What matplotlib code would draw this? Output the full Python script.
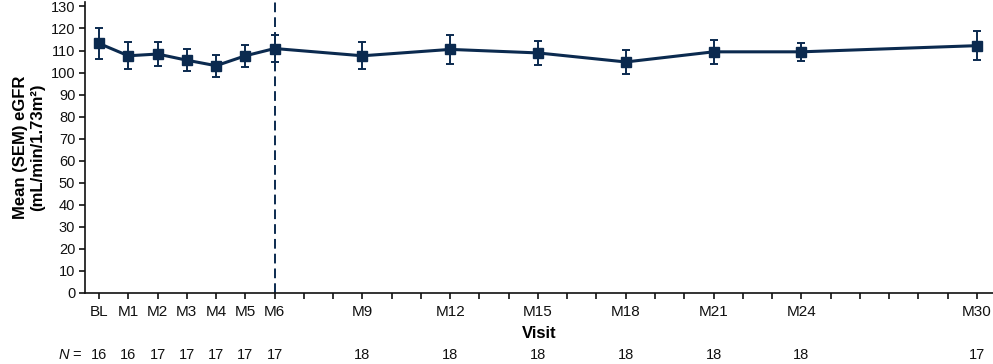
import matplotlib
matplotlib.use("Agg")
import matplotlib.pyplot as plt

plt.rcParams['font.family'] = ['Liberation Sans', 'DejaVu Sans']

# Visit data (month of visit, mean eGFR, SEM, N)
visits = ['BL', 'M1', 'M2', 'M3', 'M4', 'M5', 'M6', 'M9', 'M12', 'M15', 'M18', 'M21', 'M24', 'M30']
months = [0, 1, 2, 3, 4, 5, 6, 9, 12, 15, 18, 21, 24, 30]
mean_egfr = [113.2, 107.6, 108.4, 105.6, 103.1, 107.6, 110.9, 107.6, 110.5, 108.9, 104.8, 109.4, 109.4, 112.2]
sem = [6.9, 6.1, 5.5, 4.9, 5.0, 4.9, 6.2, 6.1, 6.7, 5.6, 5.3, 5.5, 4.2, 6.7]
n_patients = [16, 16, 17, 17, 17, 17, 17, 18, 18, 18, 18, 18, 18, 17]

navy = '#0b2a4f'
ink = '#111111'

fig = plt.figure(figsize=(9.93, 3.64), dpi=100)
ax = fig.add_axes([85 / 993, 71 / 364, 908 / 993, 291 / 364])

# Vertical dashed line at M6
ax.axvline(6, color=navy, linewidth=1.4, linestyle=(0, (5, 2.6)), zorder=1)

# Mean with SEM error bars
ax.errorbar(months, mean_egfr, yerr=sem, color=navy, linewidth=2.2,
            marker='s', markersize=6.5, elinewidth=1.4, capsize=3, capthick=1.4,
            zorder=3)

ax.set_xlim(-0.48, 30.55)
ax.set_ylim(0, 132)
ax.set_yticks(range(0, 131, 10))

# Tick at every month, labels only at visits
all_months = list(range(0, 31))
labels = [visits[months.index(m)] if m in months else '' for m in all_months]
ax.set_xticks(all_months)
ax.set_xticklabels(labels)

for side in ['top', 'right']:
    ax.spines[side].set_visible(False)
for side in ['left', 'bottom']:
    ax.spines[side].set_linewidth(1.2)
    ax.spines[side].set_color(ink)

ax.tick_params(axis='both', direction='out', length=4, width=1.2, color=ink,
               labelcolor=ink)
ax.tick_params(axis='x', pad=5, labelsize=11)
ax.tick_params(axis='y', pad=3, labelsize=10.5)

ax.set_ylabel('Mean (SEM) eGFR\n(mL/min/1.73m\u00b2)', fontsize=12, fontweight='bold',
              labelpad=4, linespacing=1.15)
ax.set_xlabel('Visit', fontsize=12, fontweight='bold', labelpad=5)

# N row under the axis
trans = ax.get_xaxis_transform()
n_y = -0.212
for m, n in zip(months, n_patients):
    ax.text(m, n_y, str(n), transform=trans, ha='center', va='center',
            fontsize=10.5, color=ink, clip_on=False)
ax.text(-0.78, n_y, '=', transform=trans, ha='center', va='center',
        fontsize=10.5, color=ink)
ax.text(-1.02, n_y, 'N', transform=trans, ha='right', va='center',
        fontsize=10.5, style='italic', color=ink)

fig.savefig('out.png', dpi=100, facecolor='white')
